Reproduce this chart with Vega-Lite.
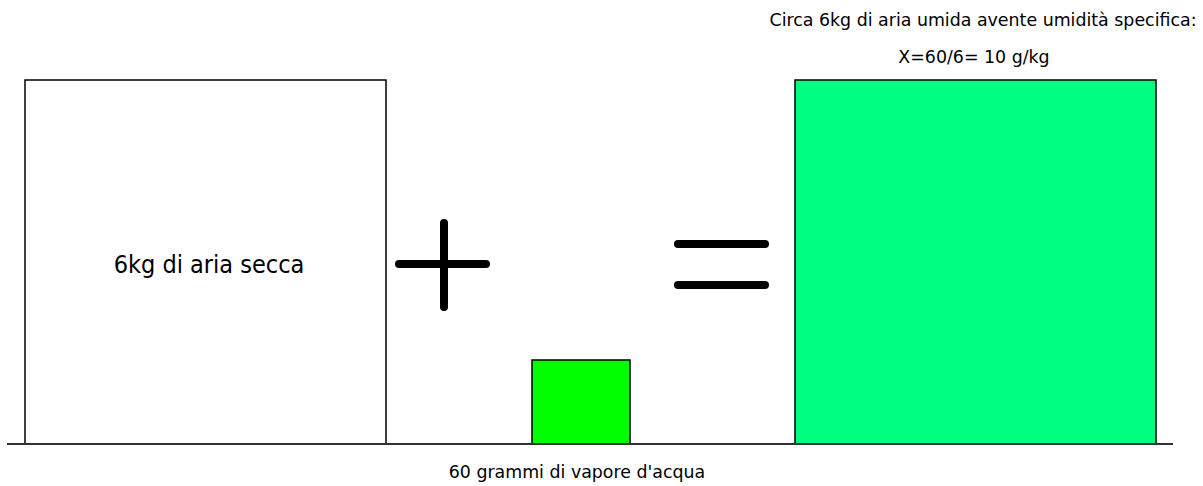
{
  "$schema": "https://vega.github.io/schema/vega-lite/v6.json",
  "width": 1203,
  "height": 486,
  "autosize": {"type": "fit", "contains": "padding"},
  "padding": 0,
  "background": "white",
  "config": {"view": {"stroke": null}},
  "datasets": {
    "boxes": [
      {"name": "aria secca", "x0": 25, "x1": 386, "y0": 444, "y1": 80, "fill": "#ffffff"},
      {"name": "vapore", "x0": 532, "x1": 630, "y0": 444, "y1": 360, "fill": "#00ff00"},
      {"name": "aria umida", "x0": 795, "x1": 1156, "y0": 444, "y1": 80, "fill": "#00ff80"}
    ],
    "strokes": [
      {"sym": "plus-h", "x0": 399, "x1": 486, "y0": 264, "y1": 264},
      {"sym": "plus-v", "x0": 444, "x1": 444, "y0": 223, "y1": 307},
      {"sym": "eq-1", "x0": 678, "x1": 765, "y0": 244, "y1": 244},
      {"sym": "eq-2", "x0": 678, "x1": 765, "y0": 285, "y1": 285}
    ],
    "labels": [
      {"t": "Circa 6kg di aria umida avente umidità specifica:", "x": 983, "y": 21},
      {"t": "X=60/6= 10 g/kg", "x": 974, "y": 58},
      {"t": "60 grammi di vapore d'acqua", "x": 577, "y": 473}
    ]
  },
  "layer": [
    {
      "data": {"name": "boxes"},
      "mark": {"type": "rect", "stroke": "#000000", "strokeWidth": 1.5},
      "encoding": {
        "x": {"field": "x0", "type": "quantitative", "scale": {"domain": [0, 1203], "zero": false, "nice": false}, "axis": null},
        "x2": {"field": "x1"},
        "y": {"field": "y0", "type": "quantitative", "scale": {"domain": [0, 486], "reverse": true, "zero": false, "nice": false}, "axis": null},
        "y2": {"field": "y1"},
        "fill": {"field": "fill", "type": "nominal", "scale": null, "legend": null}
      }
    },
    {
      "data": {"values": [{"x0": 7, "x1": 1173, "y": 444}]},
      "mark": {"type": "rule", "color": "#333333", "strokeWidth": 2},
      "encoding": {
        "x": {"field": "x0", "type": "quantitative"},
        "x2": {"field": "x1"},
        "y": {"field": "y", "type": "quantitative"}
      }
    },
    {
      "data": {"name": "strokes"},
      "mark": {"type": "rule", "color": "#000000", "strokeWidth": 8, "strokeCap": "round"},
      "encoding": {
        "x": {"field": "x0", "type": "quantitative"},
        "x2": {"field": "x1"},
        "y": {"field": "y0", "type": "quantitative"},
        "y2": {"field": "y1"}
      }
    },
    {
      "data": {"name": "labels"},
      "mark": {"type": "text", "align": "center", "baseline": "middle", "color": "#000000", "font": "DejaVu Sans", "fontSize": 17.4},
      "encoding": {
        "x": {"field": "x", "type": "quantitative"},
        "y": {"field": "y", "type": "quantitative"},
        "text": {"field": "t"}
      }
    },
    {
      "data": {"values": [{"t": "6kg di aria secca", "x": 209, "y": 265}]},
      "mark": {"type": "text", "align": "center", "baseline": "middle", "color": "#000000", "font": "DejaVu Sans Condensed", "fontSize": 25},
      "encoding": {
        "x": {"field": "x", "type": "quantitative"},
        "y": {"field": "y", "type": "quantitative"},
        "text": {"field": "t"}
      }
    }
  ]
}
